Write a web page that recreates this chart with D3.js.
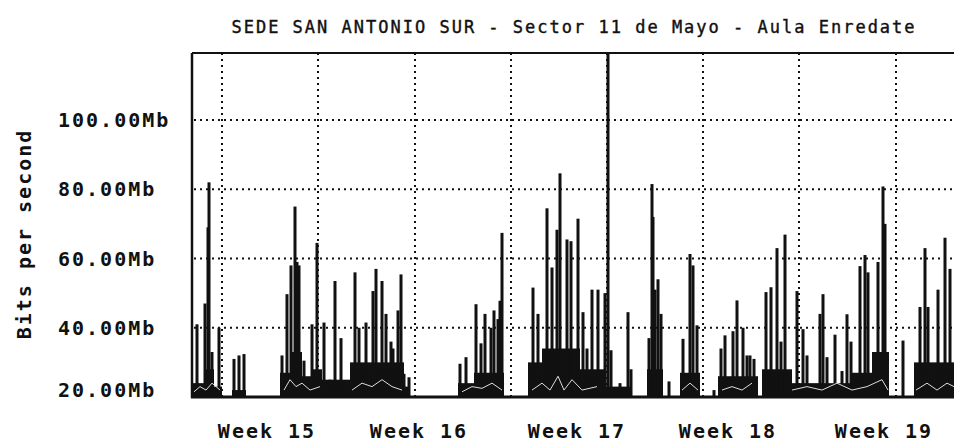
<!DOCTYPE html>
<html>
<head>
<meta charset="utf-8">
<script src="https://cdn.jsdelivr.net/npm/d3@7"></script>
<style>
  html, body { margin: 0; padding: 0; background: #fff; }
  svg { display: block; }
</style>
</head>
<body>
<div id="chart"></div>
<script>
// chart text
const title = "SEDE SAN ANTONIO SUR - Sector 11 de Mayo - Aula Enredate";
const yTitle = "Bits per second";
const yTicks = [20, 40, 60, 80, 100];
const weekLabels = ["Week 15", "Week 16", "Week 17", "Week 18", "Week 19"];
// position of week labels and vertical grid, in hours from the left edge
const weekPos = [75, 227, 385, 536, 692];
const gridHours = [30, 126, 223, 319, 415, 511, 607, 704];

// peak samples [hour, Mb]
const peaks = [
  [5, 41], [13, 47], [16, 69], [17, 82], [20, 33], [27, 40],
  [42, 31], [47, 32], [52, 32.4],
  [90, 32], [95, 49.7], [99, 58], [103, 75], [105, 59], [107, 58], [112, 30.5],
  [120, 41], [125, 64.5], [132, 41.5], [138, 25], [143, 53.5], [149, 37],
  [163, 56], [167, 40], [174, 41.5], [181, 50.6], [184, 57], [190, 53.5],
  [194, 44], [199, 36], [201, 34], [206, 45], [209, 55.4], [212, 26.7], [217, 25.7],
  [268, 29.6], [274, 31.5], [284, 46.8], [289, 35.5], [293, 44], [299, 40],
  [302, 45], [306, 42.5], [308, 47.8], [310, 67.4],
  [338, 29.6], [341, 51.6], [346, 44], [355, 74.5], [360, 57.4], [365, 68.3],
  [368, 84.6], [375, 65.5], [379, 65], [386, 71.5],
  [391, 44.5], [395, 34], [400, 51], [406, 51], [413, 50], [416, 125], [419, 33.5],
  [428, 24], [436, 44.5], [439, 28],
  [457, 37], [460, 81.5], [461, 72], [463, 51], [466, 54], [469, 44], [477, 24.5],
  [491, 36.8], [498, 61.3], [501, 58], [505, 40.7],
  [522, 22], [529, 34], [533, 37.8], [541, 39], [545, 47.9], [551, 40], [555, 32],
  [558, 32], [562, 31], [574, 50.3], [579, 51.7],
  [585, 63], [589, 36], [593, 66.9], [605, 50.6], [611, 39.6], [615, 32], [622, 23],
  [628, 44], [631, 49.7], [635, 31.5], [643, 38], [650, 27.5], [655, 43.9], [659, 36],
  [668, 57.8], [673, 61], [676, 56], [686, 59], [691, 80.8], [693, 70],
  [711, 36.3], [728, 46], [733, 63], [736, 46], [746, 51], [753, 66], [758, 57]
];

// dense low traffic blocks [fromHour, toHour, Mb]
const floors = [
  [1, 12, 24], [12, 22, 28], [22, 30, 23], [40, 54, 22],
  [88, 100, 27], [100, 110, 33], [110, 120, 26], [120, 130, 28],
  [130, 158, 25], [158, 212, 30], [212, 218, 23],
  [266, 282, 24], [282, 312, 27],
  [336, 350, 30], [350, 388, 34], [388, 412, 28], [412, 440, 23],
  [455, 471, 28], [488, 508, 27], [526, 566, 26],
  [570, 600, 28], [600, 660, 24], [660, 680, 27], [680, 697, 33],
  [722, 762, 30]
];

// average inbound trace, drawn light over the dark mass [hour, Mb]
const inAvg = [
  [[2, 21.5], [8, 23], [14, 22], [20, 24], [28, 22]],
  [[92, 22], [98, 25], [104, 23], [110, 24], [118, 22], [128, 23]],
  [[160, 22], [170, 24], [180, 23], [190, 25], [200, 23], [210, 22]],
  [[270, 21.5], [280, 23], [290, 22.5], [300, 24], [310, 22]],
  [[340, 22], [350, 24], [358, 22], [366, 26], [372, 22], [380, 25], [390, 22], [405, 23]],
  [[490, 22], [498, 24], [506, 22]],
  [[530, 22], [540, 23], [550, 22], [560, 24]],
  [[600, 22], [615, 23], [630, 22], [645, 24], [660, 22], [675, 23], [690, 25], [696, 22]],
  [[724, 22], [735, 24], [745, 22], [755, 24], [762, 23]]
];

const W = 954, H = 445;
const plot = { left: 192, right: 954, top: 53, bottom: 397 };

const x = d3.scaleLinear().domain([0, 762]).range([plot.left, plot.right]);
const y = d3.scaleLinear().domain([20, 119.35]).range([plot.bottom, plot.top]);

const svg = d3.select("#chart").append("svg")
  .attr("width", W)
  .attr("height", H)
  .style("font-family", "'DejaVu Sans Mono', monospace");

svg.append("defs").append("clipPath").attr("id", "clip")
  .append("rect")
  .attr("x", plot.left).attr("y", plot.top)
  .attr("width", plot.right - plot.left).attr("height", plot.bottom - plot.top);

// title
svg.append("text")
  .attr("x", 574)
  .attr("y", 33)
  .attr("text-anchor", "middle")
  .style("font-size", "17px")
  .style("letter-spacing", "2px")
  .attr("fill", "#111")
  .attr("stroke", "#111")
  .attr("stroke-width", 0.4)
  .text(title);

// y axis title
svg.append("text")
  .attr("transform", `translate(31, 234) rotate(-90)`)
  .attr("text-anchor", "middle")
  .style("font-size", "20px")
  .style("font-weight", "bold")
  .style("letter-spacing", "2px")
  .attr("fill", "#111")
  .text(yTitle);

const g = svg.append("g").attr("clip-path", "url(#clip)");

// grid
g.selectAll(".hgrid")
  .data(yTicks.filter(d => d > 20))
  .enter()
  .append("line")
  .attr("class", "hgrid")
  .attr("x1", plot.left - 4).attr("x2", plot.right)
  .attr("y1", d => y(d)).attr("y2", d => y(d))
  .attr("stroke", "#111")
  .attr("stroke-width", 2)
  .attr("stroke-dasharray", "2,4");

g.selectAll(".vgrid")
  .data(gridHours)
  .enter()
  .append("line")
  .attr("class", "vgrid")
  .attr("x1", d => x(d)).attr("x2", d => x(d))
  .attr("y1", plot.top).attr("y2", plot.bottom)
  .attr("stroke", "#111")
  .attr("stroke-width", 2)
  .attr("stroke-dasharray", "2,4");

// floors
g.selectAll(".floor")
  .data(floors)
  .enter()
  .append("rect")
  .attr("class", "floor")
  .attr("x", d => x(d[0]))
  .attr("width", d => x(d[1]) - x(d[0]))
  .attr("y", d => y(d[2]))
  .attr("height", d => y(20) - y(d[2]))
  .attr("fill", "#111");

// peaks
g.selectAll(".peak")
  .data(peaks)
  .enter()
  .append("rect")
  .attr("class", "peak")
  .attr("x", d => x(d[0]) - 1.5)
  .attr("width", 3)
  .attr("y", d => y(d[1]))
  .attr("height", d => y(20) - y(d[1]))
  .attr("fill", "#111");

// inbound average trace
const avgLine = d3.line()
  .x(d => x(d[0]))
  .y(d => y(d[1]))
  .curve(d3.curveLinear);

g.selectAll(".avg")
  .data(inAvg)
  .enter()
  .append("path")
  .attr("class", "avg")
  .attr("d", avgLine)
  .attr("fill", "none")
  .attr("stroke", "#ddd")
  .attr("stroke-width", 1);

// frame
svg.append("line")
  .attr("x1", plot.left).attr("x2", plot.right)
  .attr("y1", plot.top).attr("y2", plot.top)
  .attr("stroke", "#111").attr("stroke-width", 2);
svg.append("line")
  .attr("x1", plot.left).attr("x2", plot.left)
  .attr("y1", plot.top).attr("y2", plot.bottom + 1)
  .attr("stroke", "#111").attr("stroke-width", 2.5);
svg.append("line")
  .attr("x1", plot.left - 1).attr("x2", plot.right)
  .attr("y1", plot.bottom).attr("y2", plot.bottom)
  .attr("stroke", "#111").attr("stroke-width", 3);

// y labels
svg.selectAll(".ylabel")
  .data(yTicks)
  .enter()
  .append("text")
  .attr("class", "ylabel")
  .attr("x", 58)
  .attr("y", d => Math.min(y(d), y(20) - 7))
  .attr("dy", "0.36em")
  .style("font-size", "20px")
  .style("font-weight", "bold")
  .style("letter-spacing", "2px")
  .attr("fill", "#111")
  .text(d => d3.format(".2f")(d) + "Mb");

// week labels
svg.selectAll(".week")
  .data(weekLabels)
  .enter()
  .append("text")
  .attr("class", "week")
  .attr("x", (d, i) => x(weekPos[i]))
  .attr("y", 438)
  .attr("text-anchor", "middle")
  .style("font-size", "20px")
  .style("font-weight", "bold")
  .style("letter-spacing", "2px")
  .attr("fill", "#111")
  .text(d => d);
</script>
</body>
</html>
